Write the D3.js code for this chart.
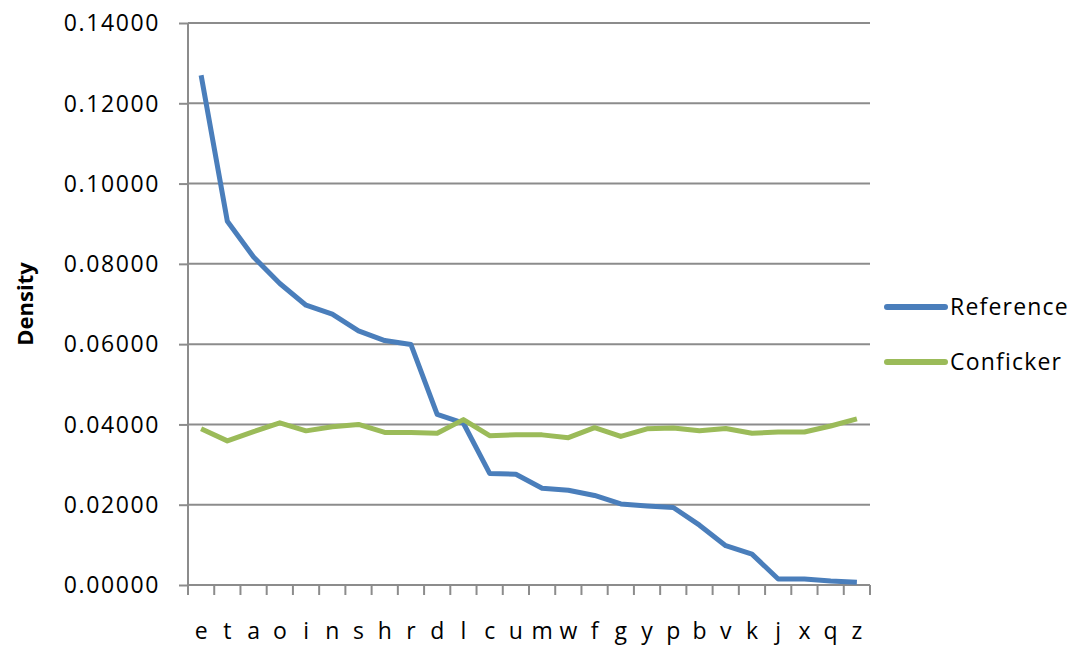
<!DOCTYPE html>
<html><head><meta charset="utf-8">
<script src="https://cdn.jsdelivr.net/npm/d3@7"></script>
<style>body{margin:0;background:#fff}svg{display:block}text{font-family:"Open Sans","Noto Sans",sans-serif;fill:#000}</style>
</head><body>
<svg id="c" width="1076" height="646"></svg>
<script>
const letters = ["e","t","a","o","i","n","s","h","r","d","l","c","u","m","w","f","g","y","p","b","v","k","j","x","q","z"];
const reference = [0.1270,0.0906,0.0817,0.0751,0.0697,0.0675,0.0633,0.0609,0.0599,0.0425,0.0403,0.0278,0.0276,0.0241,0.0236,0.0223,0.0202,0.0197,0.0193,0.0149,0.0098,0.0077,0.0015,0.0015,0.0010,0.0007];
const conficker = [0.0389,0.0359,0.0382,0.0404,0.0384,0.0394,0.0400,0.0380,0.0380,0.0378,0.0412,0.0372,0.0374,0.0374,0.0367,0.0392,0.0370,0.0389,0.0391,0.0384,0.0390,0.0378,0.0381,0.0381,0.0396,0.0414];
const yTicks = [0,0.02,0.04,0.06,0.08,0.10,0.12,0.14];
const seriesNames = ["Reference","Conficker"];
const colors = ["#4a7ebb","#9bbb59"];

const svg = d3.select("#c");
const L=188, R=870, T=23, B=585;
const x = d3.scaleBand().domain(letters).range([L,R]);
const y = d3.scaleLinear().domain([0,0.14]).range([B,T]);
const grid = "#8c8c8c";
const FS = 23;

// gridlines
svg.append("g").selectAll("line").data(yTicks.filter(d=>d>0)).join("line")
  .attr("x1",L).attr("x2",R).attr("y1",d=>y(d)).attr("y2",d=>y(d))
  .attr("stroke",grid).attr("stroke-width",2);

// y axis
const ya = svg.append("g").attr("transform",`translate(${L},0)`)
  .call(d3.axisLeft(y).tickValues(yTicks).tickFormat(d3.format(".5f")).tickSize(9).tickPadding(19));
ya.select(".domain").attr("stroke",grid).attr("stroke-width",2).attr("d",`M0,${T}V${B+10}`);
ya.selectAll(".tick line").attr("stroke",grid).attr("stroke-width",2);
ya.selectAll(".tick text").attr("font-size",FS).attr("letter-spacing","1.6px")
  .attr("font-family","'Open Sans',sans-serif").attr("dy","0.34em");

// x axis
const xa = svg.append("g").attr("transform",`translate(0,${B})`)
  .call(d3.axisBottom(x).tickSize(0).tickPadding(38));
xa.select(".domain").attr("stroke",grid).attr("stroke-width",2).attr("d",`M${L},0H${R}`);
xa.selectAll(".tick text").attr("font-size",FS).attr("font-family","'Open Sans',sans-serif");
const edges = letters.map(l=>x(l)).concat([R]);
xa.append("g").selectAll("line").data(edges).join("line")
  .attr("x1",d=>d).attr("x2",d=>d).attr("y1",0).attr("y2",10)
  .attr("stroke",grid).attr("stroke-width",2);

// lines
const line = d3.line().x((d,i)=>x(letters[i])+x.bandwidth()/2).y(d=>y(d));
[reference,conficker].forEach((s,k)=>{
  svg.append("path").datum(s).attr("d",line).attr("fill","none")
    .attr("stroke",colors[k]).attr("stroke-width",5).attr("stroke-linejoin","round");
});

// y label
svg.append("text").attr("transform","translate(33,304) rotate(-90)")
  .attr("text-anchor","middle").attr("font-size",22).attr("font-weight","bold").text("Density");

// legend
const lg = svg.append("g");
seriesNames.forEach((n,k)=>{
  const yy = 307 + k*55;
  lg.append("line").attr("x1",887).attr("x2",945).attr("y1",yy).attr("y2",yy)
    .attr("stroke",colors[k]).attr("stroke-width",6).attr("stroke-linecap","round");
  lg.append("text").attr("x",950).attr("y",yy).attr("dy","0.35em").attr("font-size",FS)
    .attr("letter-spacing","1.2px").text(n);
});
</script>
</body></html>
